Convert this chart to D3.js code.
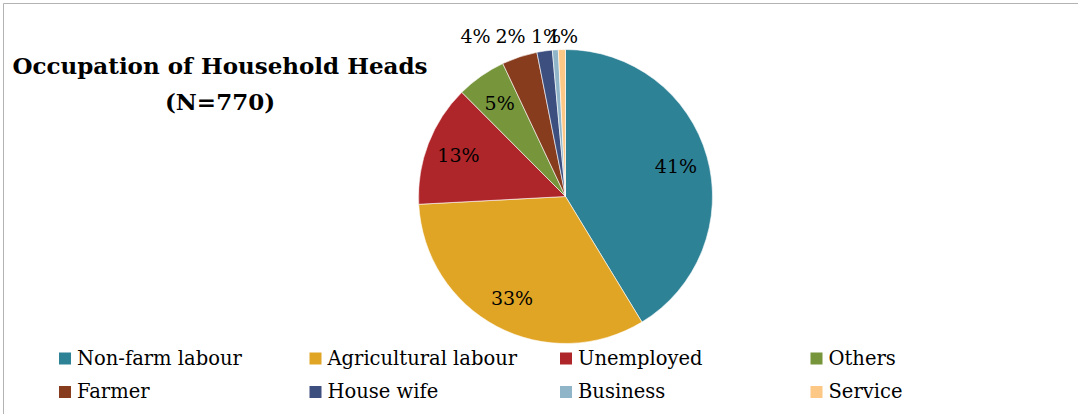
<!DOCTYPE html>
<html>
<head>
<meta charset="utf-8">
<script src="https://cdn.jsdelivr.net/npm/d3@7"></script>
<style>
  html, body { margin: 0; padding: 0; background: #fff; }
  svg { display: block; }
</style>
</head>
<body>
<svg id="chart" width="1078" height="414"></svg>
<script>
// Occupation of household heads, counts out of N = 770
const categories = ["Non-farm labour", "Agricultural labour", "Unemployed", "Others",
                    "Farmer", "House wife", "Business", "Service"];
const counts = [318, 253, 103, 42, 30, 13, 5, 6];
const colors = ["#2E8296", "#E1A526", "#AF262A", "#77963C",
                "#873C1E", "#3C4F7F", "#90B5C8", "#FDC886"];
const totalN = 770;
const titleLines = ["Occupation of Household Heads", "(N=770)"];

const W = 1078, H = 414;
const svg = d3.select("#chart");
const FONT = "'DejaVu Serif', 'Liberation Serif', serif";

// chart frame (top and left edges)
svg.append("path")
  .attr("d", `M3.5,${H} V3.5 H${W}`)
  .attr("fill", "none")
  .attr("stroke", "#b3b3b3")
  .attr("stroke-width", 1);

// title
const title = svg.append("text")
  .attr("font-family", FONT)
  .attr("font-weight", "bold")
  .attr("font-size", 23)
  .attr("text-anchor", "middle")
  .attr("fill", "#000");
title.selectAll("tspan").data(titleLines).join("tspan")
  .attr("x", 220)
  .attr("y", (d, i) => 74 + i * 36)
  .text(d => d);

// pie
const cx = 565.5, cy = 196.5, R = 147;
const data = categories.map((c, i) => ({ name: c, value: counts[i], color: colors[i] }));
const pie = d3.pie().value(d => d.value).sort(null);
const arcs = pie(data);
const arc = d3.arc().innerRadius(0).outerRadius(R);
const labelArc = d3.arc().innerRadius(R * 0.78).outerRadius(R * 0.78);

const g = svg.append("g").attr("transform", `translate(${cx},${cy})`);
g.selectAll("path.slice").data(arcs).join("path")
  .attr("class", "slice")
  .attr("d", arc)
  .attr("fill", d => d.data.color)
  .attr("stroke", "#ffffff")
  .attr("stroke-width", 0.6);

const pct = d => Math.round(d.value / totalN * 100) + "%";

// slices large enough hold their label inside; the thin ones are set above the pie
const insideArcs = arcs.filter(d => d.endAngle - d.startAngle > 0.3);
const outsideArcs = arcs.filter(d => d.endAngle - d.startAngle <= 0.3);
const outsideX = [-90, -55, -19.5, -2.5];

g.selectAll("text.in").data(insideArcs).join("text")
  .attr("class", "in")
  .attr("font-family", FONT)
  .attr("font-size", 19)
  .attr("text-anchor", "middle")
  .attr("dominant-baseline", "central")
  .attr("fill", "#000")
  .attr("transform", d => `translate(${labelArc.centroid(d)})`)
  .text(d => pct(d.data));

g.selectAll("text.out").data(outsideArcs).join("text")
  .attr("class", "out")
  .attr("font-family", FONT)
  .attr("font-size", 19)
  .attr("text-anchor", "middle")
  .attr("fill", "#000")
  .attr("x", (d, i) => outsideX[i])
  .attr("y", -R - 7)
  .text(d => pct(d.data));

// legend: 4 columns x 2 rows
const legend = svg.append("g");
const colX = d3.scaleLinear().domain([0, 1]).range([59, 309.5]);
const rowY = d3.scaleLinear().domain([0, 1]).range([352.5, 386]);
const items = legend.selectAll("g").data(data).join("g")
  .attr("transform", (d, i) => `translate(${colX(i % 4)},${rowY(Math.floor(i / 4))})`);
items.append("rect")
  .attr("width", 12).attr("height", 12)
  .attr("fill", d => d.color);
items.append("text")
  .attr("x", 18).attr("y", 12)
  .attr("font-family", FONT)
  .attr("font-size", 19.5)
  .attr("fill", "#000")
  .text(d => d.name);
</script>
</body>
</html>
